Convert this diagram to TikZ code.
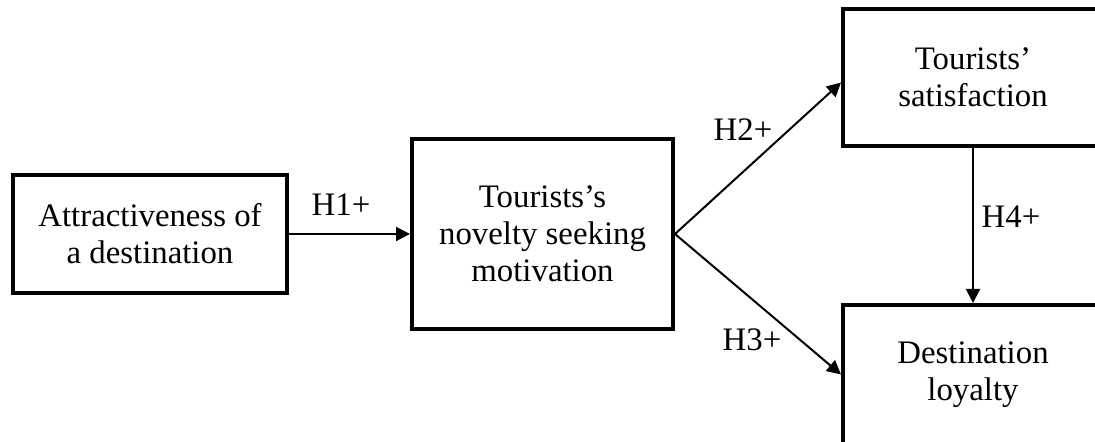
\documentclass[tikz,border=0pt]{standalone}
\usepackage{fontspec}
\setmainfont{Liberation Serif}
\usetikzlibrary{arrows.meta}
\usetikzlibrary{shapes, positioning}

\begin{document}
\begin{tikzpicture}[x=0.5pt, y=-0.5pt, font=\fontsize{16.4}{18.6}\selectfont]
    \useasboundingbox (0,0) rectangle (1095,442);
    \clip (0,0) rectangle (1095,442);
    \tikzset{box/.style={rectangle, draw=black, line width=2pt, align=center, inner sep=0pt}}

    % Define nodes
    \node[box, minimum width=137pt, minimum height=59pt] (attract) at (150,234) {Attractiveness of\\ a destination};
    \node[box, minimum width=130.5pt, minimum height=95pt] (novelty) at (542.5,234) {Tourists's\\ novelty seeking\\ motivation};
    \node[box, minimum width=130pt, minimum height=68.5pt] (satisf) at (973,77.5) {Tourists'\\ satisfaction};
    \node[box, minimum width=130pt, minimum height=69.5pt] (loyal) at (973,374.5) {Destination\\ loyalty};

    % Connect nodes with arrows
    \draw[-{Triangle[length=7pt, width=7pt]}, line width=1pt] (attract) -- (novelty);
    \draw[-{Triangle[length=7pt, width=7pt]}, line width=1pt] (novelty.east) -- ([yshift=-2.5pt]satisf.west);
    \draw[-{Triangle[length=7pt, width=7pt]}, line width=1pt] (novelty.east) -- (loyal.west);
    \draw[-{Triangle[length=7pt, width=7pt]}, line width=1pt] (satisf) -- (loyal);

    % Labels
    \node (h1) at (341,205) {H1+};
    \node (h2) at (743,130) {H2+};
    \node (h3) at (752,340) {H3+};
    \node (h4) at (1011,217) {H4+};
\end{tikzpicture}
\end{document}
